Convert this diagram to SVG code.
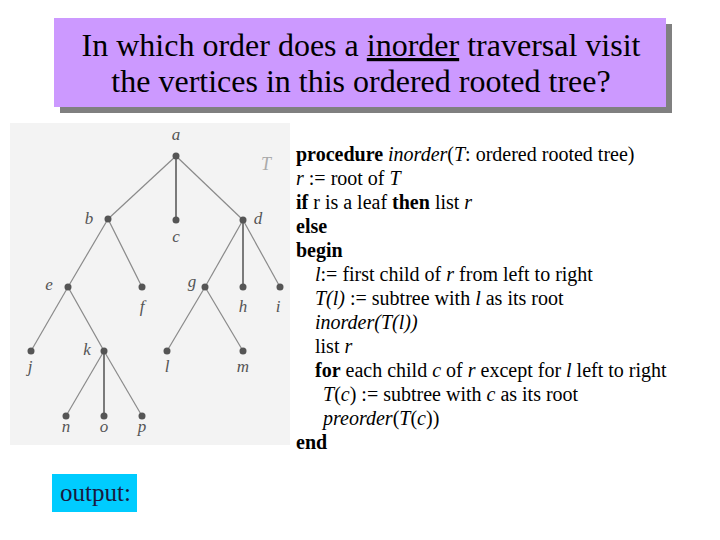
<svg xmlns="http://www.w3.org/2000/svg" width="720" height="540" viewBox="0 0 720 540">
  <style>
    .hdr { font-family: "Liberation Serif", "Times New Roman", serif; font-size: 32px; fill: #000; }
    .code { font-family: "Liberation Serif", "Times New Roman", serif; font-size: 20px; fill: #000; }
    .b { font-weight: bold; }
    .i { font-style: italic; }
    .lbl { font-family: "Liberation Serif", "Times New Roman", serif; font-size: 17px; font-style: italic; fill: #555; text-anchor: middle; }
    .edge { stroke: #8a8a8a; stroke-width: 1.2; fill: none; }
    .vedge { stroke: #7a7a7a; stroke-width: 2; fill: none; }
    .dot { fill: #555; }
  </style>
  <rect width="720" height="540" fill="#fff"/>

  <!-- title -->
  <g id="title-box">
    <rect x="60" y="24" width="612" height="89" fill="#808080"/>
    <rect x="54" y="18" width="612" height="89" fill="#CC99FF"/>
    <text class="hdr" x="361" y="56" text-anchor="middle">In which order does a <tspan text-decoration="underline">inorder</tspan> traversal visit</text>
    <text class="hdr" x="361" y="92" text-anchor="middle">the vertices in this ordered rooted tree?</text>
  </g>

  <!-- tree picture background -->
  <rect id="tree-bg" x="10" y="123" width="280" height="322" fill="#f3f3f3"/>

  <g id="connectors">
    <line class="edge" x1="176" y1="156" x2="108" y2="219"/>
    <line class="vedge" x1="176" y1="156" x2="176" y2="220"/>
    <line class="edge" x1="176" y1="156" x2="243" y2="220"/>
    <line class="edge" x1="108" y1="219" x2="68" y2="287"/>
    <line class="edge" x1="108" y1="219" x2="142" y2="287"/>
    <line class="edge" x1="243" y1="220" x2="205" y2="287"/>
    <line class="vedge" x1="243" y1="220" x2="243" y2="287"/>
    <line class="edge" x1="243" y1="220" x2="280" y2="287"/>
    <line class="edge" x1="68" y1="287" x2="31" y2="351"/>
    <line class="edge" x1="68" y1="287" x2="104" y2="351"/>
    <line class="edge" x1="205" y1="287" x2="167" y2="351"/>
    <line class="edge" x1="205" y1="287" x2="243" y2="351"/>
    <line class="edge" x1="104" y1="351" x2="66" y2="416"/>
    <line class="vedge" x1="104" y1="351" x2="104" y2="416"/>
    <line class="edge" x1="104" y1="351" x2="142" y2="416"/>
  </g>

  <g id="node-a"><circle class="dot" cx="176" cy="156" r="3.5"/><text class="lbl" x="176" y="140">a</text></g>
  <g id="node-b"><circle class="dot" cx="108" cy="219" r="3.5"/><text class="lbl" x="89" y="224">b</text></g>
  <g id="node-c"><circle class="dot" cx="176" cy="220" r="3.5"/><text class="lbl" x="176" y="242">c</text></g>
  <g id="node-d"><circle class="dot" cx="243" cy="220" r="3.5"/><text class="lbl" x="258" y="224">d</text></g>
  <g id="node-e"><circle class="dot" cx="68" cy="287" r="3.5"/><text class="lbl" x="49" y="290">e</text></g>
  <g id="node-f"><circle class="dot" cx="142" cy="287" r="3.5"/><text class="lbl" x="142" y="312">f</text></g>
  <g id="node-g"><circle class="dot" cx="205" cy="287" r="3.5"/><text class="lbl" x="192" y="287">g</text></g>
  <g id="node-h"><circle class="dot" cx="243" cy="287" r="3.5"/><text class="lbl" x="243" y="312">h</text></g>
  <g id="node-i"><circle class="dot" cx="280" cy="287" r="3.5"/><text class="lbl" x="278" y="312">i</text></g>
  <g id="node-j"><circle class="dot" cx="31" cy="351" r="3.5"/><text class="lbl" x="30" y="372">j</text></g>
  <g id="node-k"><circle class="dot" cx="104" cy="351" r="3.5"/><text class="lbl" x="87" y="355">k</text></g>
  <g id="node-l"><circle class="dot" cx="167" cy="351" r="3.5"/><text class="lbl" x="167" y="372">l</text></g>
  <g id="node-m"><circle class="dot" cx="243" cy="351" r="3.5"/><text class="lbl" x="243" y="372">m</text></g>
  <g id="node-n"><circle class="dot" cx="66" cy="416" r="3.5"/><text class="lbl" x="66" y="432">n</text></g>
  <g id="node-o"><circle class="dot" cx="104" cy="416" r="3.5"/><text class="lbl" x="104" y="432">o</text></g>
  <g id="node-p"><circle class="dot" cx="142" cy="416" r="3.5"/><text class="lbl" x="142" y="432">p</text></g>
  <text id="tree-name" x="266" y="170" font-family="Liberation Serif, serif" font-size="18" font-style="italic" fill="#aaa" text-anchor="middle">T</text>

  <!-- pseudocode -->
  <g id="pseudocode" class="code">
    <text x="296" y="161"><tspan class="b">procedure</tspan> <tspan class="i">inorder</tspan>(<tspan class="i">T</tspan>: ordered rooted tree)</text>
    <text x="296" y="185"><tspan class="i">r</tspan> := root of <tspan class="i">T</tspan></text>
    <text x="296" y="209"><tspan class="b">if</tspan> r is a leaf <tspan class="b">then</tspan> list <tspan class="i">r</tspan></text>
    <text x="296" y="233" class="b">else</text>
    <text x="296" y="257" class="b">begin</text>
    <text x="315" y="281"><tspan class="i">l</tspan>:= first child of <tspan class="i">r</tspan> from left to right</text>
    <text x="315" y="305"><tspan class="i">T(l)</tspan> := subtree with <tspan class="i">l</tspan> as its root</text>
    <text x="315" y="329" class="i">inorder(T(l))</text>
    <text x="315" y="353">list <tspan class="i">r</tspan></text>
    <text x="315" y="377"><tspan class="b">for</tspan> each child <tspan class="i">c</tspan> of <tspan class="i">r</tspan> except for <tspan class="i">l</tspan> left to right</text>
    <text x="323" y="401"><tspan class="i">T</tspan>(<tspan class="i">c</tspan>) := subtree with <tspan class="i">c</tspan> as its root</text>
    <text x="323" y="425"><tspan class="i">preorder</tspan>(<tspan class="i">T</tspan>(<tspan class="i">c</tspan>))</text>
    <text x="296" y="449" class="b">end</text>
  </g>

  <!-- output box -->
  <g id="output">
    <rect x="52" y="474" width="85" height="38" fill="#00CCFF"/>
    <text x="60" y="501" font-family="Liberation Serif, serif" font-size="25" fill="#1a1a40">output:</text>
  </g>
</svg>
